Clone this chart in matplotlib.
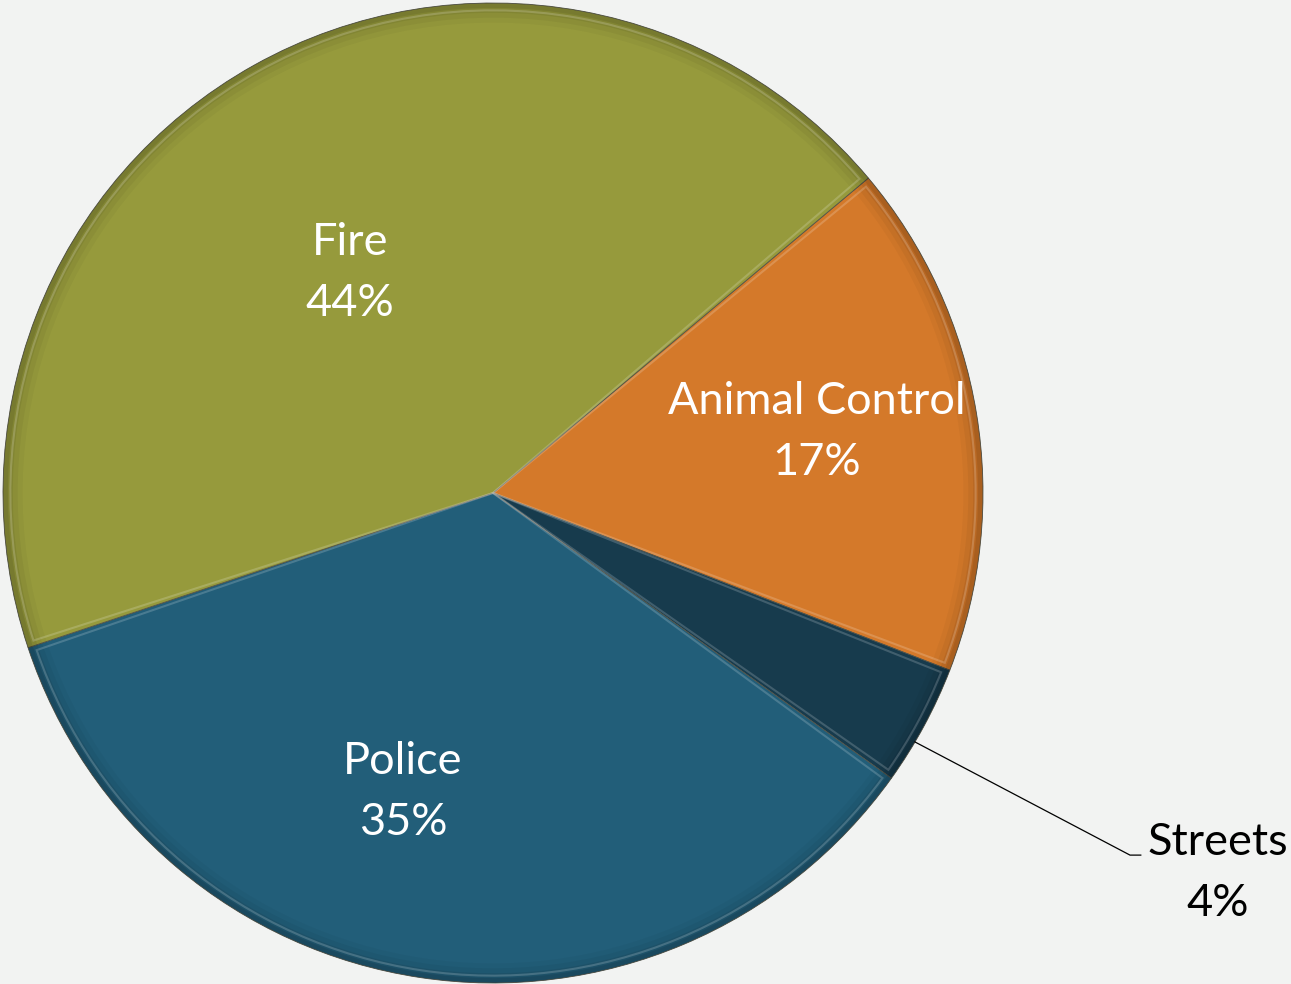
import matplotlib.pyplot as plt
from matplotlib.patches import Wedge

# Share of calls by department, clockwise from the upper right
departments = ['Animal Control', 'Streets', 'Police', 'Fire']
shares = [17, 4, 35, 44]
colors = ['#d4792a', '#173b4d', '#225e79', '#969a3c']
label_colors = ['white', 'black', 'white', 'white']

bg = '#f2f3f2'
plt.rcParams['font.family'] = ['Lato', 'DejaVu Sans']

fig = plt.figure(figsize=(12.91, 9.84), dpi=100, facecolor=bg)
ax = fig.add_axes([3 / 1291, 1 / 984, 980 / 1291, 980 / 984])
ax.set_facecolor(bg)

wedges, _ = ax.pie(shares, colors=colors, startangle=40, counterclock=False,
                   radius=1.0,
                   wedgeprops=dict(edgecolor='#55554a', linewidth=0.6))

# soft rim shading and a light inner bevel on every slice
for w, c in zip(wedges, colors):
    for i, a in enumerate([0.08, 0.06, 0.04, 0.03]):
        ax.add_patch(Wedge((0, 0), 1.0, w.theta1, w.theta2, width=0.01 * (i + 1),
                           facecolor='black', alpha=a, edgecolor='none'))
    ax.add_patch(Wedge((0, 0), 0.985, w.theta1 + 0.6, w.theta2 - 0.6,
                       facecolor='none', edgecolor='white', alpha=0.18,
                       linewidth=1.5))

ax.set_xlim(-1, 1)
ax.set_ylim(-1, 1)
ax.set_aspect('equal')
ax.axis('off')

# label positions in data units
label_xy = [(0.661, 0.124), (1.480, -0.776), (-0.184, -0.610), (-0.292, 0.449)]
for name, s, (x, y), tc in zip(departments, shares, label_xy, label_colors):
    ax.text(x, y, f'{name}\n{s}%', ha='center', va='center', fontsize=32.5,
            color=tc, linespacing=1.6, clip_on=False)

# leader line for the small slice
ax.plot([0.861, 1.300, 1.322], [-0.508, -0.739, -0.739], color='black',
        linewidth=0.9, clip_on=False)

fig.savefig('out.png', dpi=100, facecolor=bg)
